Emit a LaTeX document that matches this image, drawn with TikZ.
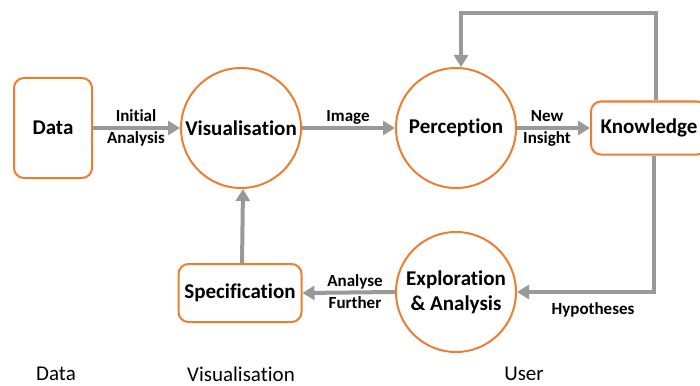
\documentclass[tikz,border=0pt]{standalone}
\usepackage{fontspec}
\setmainfont[Ligatures=NoCommon]{Carlito}
\usetikzlibrary{arrows.meta}
\definecolor{orng}{HTML}{ED7D31}
\definecolor{arrg}{HTML}{999999}
\begin{document}
\begin{tikzpicture}[x=1pt,y=-1pt,
  box/.style={draw=orng,line width=2pt,rounded corners=10pt,fill=white,inner sep=0pt,font=\fontsize{21}{23}\selectfont\bfseries},
  circ/.style={draw=orng,line width=2pt,circle,minimum size=120pt,inner sep=0pt,align=center,font=\fontsize{21}{25}\selectfont\bfseries},
  arr/.style={draw=arrg,line width=4pt,-{Triangle[length=12pt,width=14pt]}},
  lbl/.style={font=\fontsize{17}{22}\selectfont\bfseries,align=center,inner sep=0pt},
  bot/.style={font=\fontsize{21}{23}\selectfont,inner sep=0pt}]
\useasboundingbox (0,0) rectangle (700,385);
\begin{scope}
\clip (0,0) rectangle (700,385);
\node[box,minimum width=78pt,minimum height=100pt] (data) at (53,128) {Data};
\node[circ] (vis) at (241,128) {Visualisation};
\node[circ] (perc) at (456,128) {Perception};
\node[box,minimum width=116pt,minimum height=53pt] (know) at (649,128) {Knowledge};
\node[circ] (expl) at (456,292) {Exploration\\\& Analysis};
\node[box,minimum width=123pt,minimum height=58pt] (spec) at (240,293) {Specification};
\coordinate (tl) at (461,13);
\draw[arr] (data.east) -- (vis.west);
\draw[arr] (vis.east) -- (perc.west);
\draw[arr] (perc.east) -- (know.west);
\draw[arr] ([xshift=7pt]know.north) |- (tl) -- ([xshift=5pt]perc.north);
\draw[arr] ([xshift=5pt]know.south) |- (expl.east);
\draw[arr] (expl.west) -- (spec.east);
\draw[arr] ([xshift=2pt]spec.north) -- ([xshift=2pt]vis.south);
\node[lbl] (l1) at (136,128) {Initial\\Analysis};
\node[lbl] (l2) at (348,117) {Image};
\node[lbl] (l3) at (547,128) {New\\Insight};
\node[lbl] (l4) at (355,292) {Analyse\\Further};
\node[lbl] (l5) at (593,310) {Hypotheses};
\node[bot] (b1) at (56,374) {Data};
\node[bot] (b2) at (241,374) {Visualisation};
\node[bot] (b3) at (524,374) {User};
\end{scope}
\end{tikzpicture}
\end{document}
